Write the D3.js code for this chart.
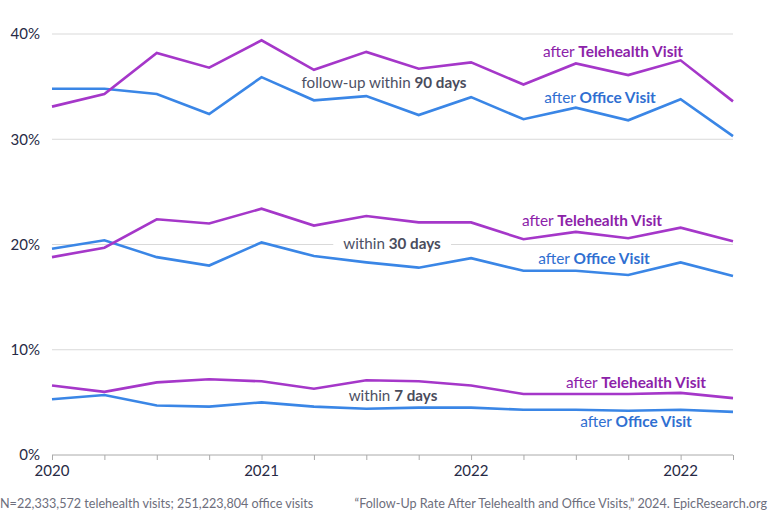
<!DOCTYPE html>
<html>
<head>
<meta charset="utf-8">
<script src="https://cdn.jsdelivr.net/npm/d3@7"></script>
<style>
  body { margin: 0; background: #fff; }
  svg { font-family: Lato, "Open Sans", sans-serif; }
</style>
</head>
<body>
<div id="chart"></div>
<script>
// quarters, 2020 Q1 .. 2023 Q2
var quarters = d3.range(14);
var xTickLabels = ["2020", "2021", "2022", "2022"];
var yTicks = [0, 10, 20, 30, 40];

// follow-up rates (%)
var tele90 = [33.1, 34.3, 38.2, 36.8, 39.4, 36.6, 38.3, 36.7, 37.3, 35.2, 37.2, 36.1, 37.5, 33.6];
var office90 = [34.8, 34.8, 34.3, 32.4, 35.9, 33.7, 34.1, 32.3, 34.0, 31.9, 33.0, 31.8, 33.8, 30.3];
var tele30 = [18.8, 19.7, 22.4, 22.0, 23.4, 21.8, 22.7, 22.1, 22.1, 20.5, 21.2, 20.6, 21.6, 20.3];
var office30 = [19.6, 20.4, 18.8, 18.0, 20.2, 18.9, 18.3, 17.8, 18.7, 17.5, 17.5, 17.1, 18.3, 17.0];
var tele7 = [6.6, 6.0, 6.9, 7.2, 7.0, 6.3, 7.1, 7.0, 6.6, 5.8, 5.8, 5.8, 5.9, 5.4];
var office7 = [5.3, 5.7, 4.7, 4.6, 5.0, 4.6, 4.4, 4.5, 4.5, 4.3, 4.3, 4.2, 4.3, 4.1];

var width = 768, height = 512;
var margin = {left: 52, right: 35, top: 34, bottom: 57};

var svg = d3.select("#chart").append("svg")
    .attr("width", width)
    .attr("height", height);

var x = d3.scaleLinear().domain([0, 13]).range([margin.left, width - margin.right]);
var y = d3.scaleLinear().domain([0, 40]).range([height - margin.bottom, margin.top]);

var purple = "#a537c9", blue = "#3a86e6";

//gridlines
svg.append("g").selectAll("line")
    .data(yTicks.filter(function (d) { return d > 0; }))
    .enter().append("line")
    .attr("x1", x(0)).attr("x2", x(13))
    .attr("y1", function (d) { return y(d); })
    .attr("y2", function (d) { return y(d); })
    .attr("stroke", "#d9d9d9")
    .attr("stroke-width", 1);

//y labels
svg.append("g").selectAll("text")
    .data(yTicks)
    .enter().append("text")
    .attr("x", 40)
    .attr("y", function (d) { return y(d); })
    .attr("dy", "0.35em")
    .attr("text-anchor", "end")
    .attr("font-size", 15)
    .attr("fill", "#272a45")
    .text(function (d) { return d + "%"; });

//x axis
var xAxis = d3.axisBottom(x).tickValues(quarters).tickSize(5).tickFormat("");
var axisG = svg.append("g")
    .attr("transform", "translate(0," + y(0) + ")")
    .call(xAxis);
axisG.select(".domain").attr("stroke", "#aaa").attr("d", "M" + x(0) + ",0H" + x(13));
axisG.selectAll(".tick line").attr("stroke", "#aaa");

svg.append("g").selectAll("text")
    .data(xTickLabels)
    .enter().append("text")
    .attr("x", function (d, i) { return x(i * 4); })
    .attr("y", 476)
    .attr("text-anchor", "middle")
    .attr("font-size", 15)
    .attr("fill", "#272a45")
    .text(function (d) { return d; });

//middle labels with white boxes
var groupLabels = [
    {pre: "follow-up within ", bold: "90 days", cx: 384, cy: 83},
    {pre: "within ", bold: "30 days", cx: 392, cy: 244},
    {pre: "within ", bold: "7 days", cx: 393, cy: 396}
];
groupLabels.forEach(function (d) {
    var g = svg.append("g");
    var bg = g.append("rect").attr("fill", "#fff");
    var t = g.append("text")
        .attr("x", d.cx)
        .attr("y", d.cy)
        .attr("dy", "0.35em")
        .attr("text-anchor", "middle")
        .attr("font-size", 15.2)
        .attr("fill", "#4d5064");
    t.append("tspan").text(d.pre);
    t.append("tspan").attr("font-weight", "bold").attr("fill", "#4a4c5c").text(d.bold);
    var bb = t.node().getBBox();
    bg.attr("x", bb.x - 10).attr("y", bb.y).attr("width", bb.width + 20).attr("height", bb.height);
});

//lines
var line = d3.line()
    .x(function (d, i) { return x(i); })
    .y(function (d) { return y(d); });

var series = [
    {values: office90, color: blue},
    {values: tele90, color: purple},
    {values: office30, color: blue},
    {values: tele30, color: purple},
    {values: office7, color: blue},
    {values: tele7, color: purple}
];
svg.append("g").selectAll("path")
    .data(series)
    .enter().append("path")
    .attr("d", function (d) { return line(d.values); })
    .attr("fill", "none")
    .attr("stroke", function (d) { return d.color; })
    .attr("stroke-width", 2.6)
    .attr("stroke-linejoin", "miter");

//series labels
var seriesLabels = [
    {kind: "Telehealth Visit", color: "#8c22a9", cx: 613, cy: 52},
    {kind: "Office Visit", color: "#2f6fd1", cx: 600, cy: 98},
    {kind: "Telehealth Visit", color: "#8c22a9", cx: 592, cy: 221},
    {kind: "Office Visit", color: "#2f6fd1", cx: 594, cy: 259},
    {kind: "Telehealth Visit", color: "#8c22a9", cx: 636, cy: 383},
    {kind: "Office Visit", color: "#2f6fd1", cx: 636, cy: 422}
];
seriesLabels.forEach(function (d) {
    var t = svg.append("text")
        .attr("x", d.cx)
        .attr("y", d.cy)
        .attr("dy", "0.35em")
        .attr("text-anchor", "middle")
        .attr("font-size", 15.4)
        .attr("fill", d.color);
    t.append("tspan").text("after ");
    t.append("tspan").attr("font-weight", "bold").text(d.kind);
});

//footer
svg.append("text")
    .attr("x", 0).attr("y", 508)
    .attr("font-size", 12.6)
    .attr("fill", "#6d6e7c")
    .text("N=22,333,572 telehealth visits; 251,223,804 office visits");
svg.append("text")
    .attr("x", 767).attr("y", 508)
    .attr("text-anchor", "end")
    .attr("font-size", 12.6)
    .attr("fill", "#6d6e7c")
    .text("\u201CFollow-Up Rate After Telehealth and Office Visits,\u201D 2024. EpicResearch.org");
</script>
</body>
</html>
